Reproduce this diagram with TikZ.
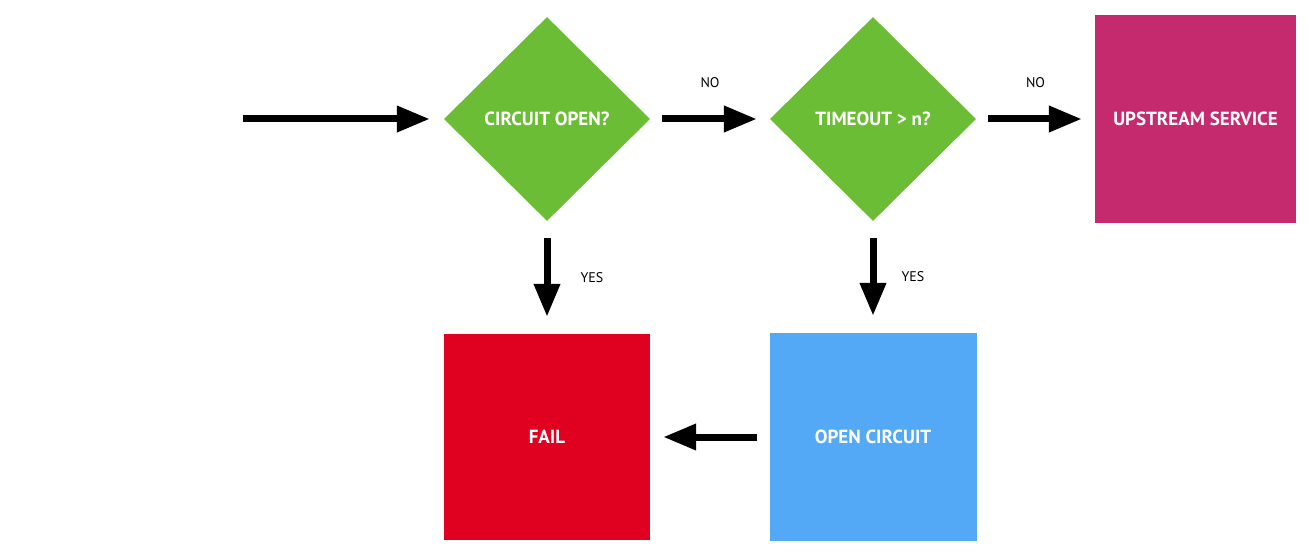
\documentclass[tikz,border=0pt]{standalone}
\usepackage{fontspec}
\setmainfont{PT Sans}
\usetikzlibrary{shapes.geometric,arrows.meta}
\definecolor{qgreen}{HTML}{6BBD35}
\definecolor{qmagenta}{HTML}{C52A6F}
\definecolor{qred}{HTML}{E0001F}
\definecolor{qblue}{HTML}{54A9F7}
\begin{document}
\begin{tikzpicture}[x=1pt,y=-1pt,
  decision/.style={diamond,shape aspect=1,fill=qgreen,minimum width=206pt,
    minimum height=204pt,inner sep=0pt,text=white,
    font=\fontsize{19}{22}\selectfont\bfseries},
  outcome/.style={rectangle,minimum size=206pt,inner sep=0pt,text=white,
    font=\fontsize{19}{22}\selectfont\bfseries},
  flow/.style={line width=7pt,-{Triangle[length=33pt,width=25pt]},
    shorten <=12pt,shorten >=13pt},
  answer/.style={font=\fontsize{14}{16}\selectfont,text=black}]
  \useasboundingbox (0,0) rectangle (1308,556);
  \node[decision] (open) at (547,119) {CIRCUIT OPEN?};
  \node[decision] (timeout) at (873,119) {TIMEOUT > n?};
  \node[outcome,fill=qmagenta,minimum width=201pt,minimum height=207pt]
    (upstream) at (1195.5,119) {UPSTREAM SERVICE};
  \node[outcome,fill=qred] (fail) at (547,437) {FAIL};
  \node[outcome,fill=qblue,minimum width=207pt,minimum height=208pt]
    (trip) at (873,437) {OPEN CIRCUIT};
  \coordinate (in) at (243,119);
  \draw[flow,shorten <=0pt,shorten >=14pt] (in) -- (open);
  \draw[flow] (open) -- node[answer,midway,yshift=36pt] {NO} (timeout);
  \draw[flow] (timeout) -- node[answer,midway,yshift=36pt] {NO} (upstream);
  \draw[flow,shorten <=17pt,shorten >=17pt] (open) --
    node[answer,midway,xshift=45pt] {YES} (fail);
  \draw[flow,shorten <=17pt,shorten >=17pt] (timeout) --
    node[answer,midway,xshift=40pt] {YES} (trip);
  \draw[flow] (trip) -- (fail);
\end{tikzpicture}
\end{document}
